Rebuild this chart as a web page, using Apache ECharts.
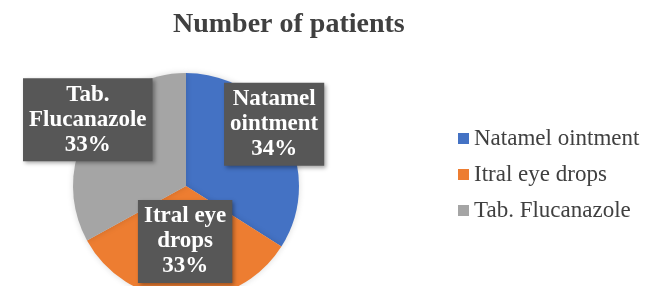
<!DOCTYPE html>
<html>
<head>
<meta charset="utf-8">
<script src="https://cdn.jsdelivr.net/npm/echarts@6/dist/echarts.min.js"></script>
<style>
  html, body { margin: 0; padding: 0; background: #fff; }
  #main { width: 646px; height: 286px; }
</style>
</head>
<body>
<div id="main"></div>
<script>
const categories = ['Natamel ointment', 'Itral eye drops', 'Tab. Flucanazole']
const patients = [34, 33, 33]
const labelNames = ['Natamel\nointment', 'Itral eye\ndrops', 'Tab.\nFlucanazole']
const colors = ['#4472C4', '#ED7D31', '#A5A5A5']

// nudges from the default inside position to where the boxes sit
const labelShift = [[36, -33], [1, -4], [-47, -36]]

const myChart = echarts.init(document.getElementById('main'))
const option = {
  backgroundColor: '#ffffff',
  color: colors,
  title: {
    text: 'Number of patients',
    left: 168,
    top: 6,
    textStyle: {
      fontFamily: 'Liberation Serif',
      fontSize: 28,
      fontWeight: 'bold',
      color: '#404040'
    }
  },
  legend: {
    orient: 'vertical',
    left: 453,
    top: 122,
    itemWidth: 11,
    itemHeight: 11,
    itemGap: 13,
    icon: 'rect',
    data: categories,
    textStyle: {
      fontFamily: 'Liberation Serif',
      fontSize: 23,
      color: '#404040'
    }
  },
  series: [
    {
      type: 'pie',
      center: [186, 186],
      radius: 113,
      startAngle: 90,
      clockwise: true,
      animation: false,
      itemStyle: {
        shadowBlur: 6,
        shadowColor: 'rgba(0,0,0,0.15)'
      },
      label: {
        position: 'inside',
        formatter: (p) => labelNames[p.dataIndex] + '\n' + p.percent + '%',
        fontFamily: 'Liberation Serif',
        fontSize: 23,
        lineHeight: 25,
        fontWeight: 'bold',
        color: '#ffffff',
        backgroundColor: '#575757',
        padding: [5, 6, 3, 6],
        shadowColor: 'rgba(0,0,0,0.35)',
        shadowBlur: 4,
        shadowOffsetX: 2,
        shadowOffsetY: 2
      },
      labelLayout: (params) => ({
        dx: labelShift[params.dataIndex][0],
        dy: labelShift[params.dataIndex][1]
      }),
      labelLine: { show: false },
      emphasis: { disabled: true },
      data: categories.map((name, i) => ({ name: name, value: patients[i] }))
    }
  ]
}
myChart.setOption(option)
</script>
</body>
</html>
